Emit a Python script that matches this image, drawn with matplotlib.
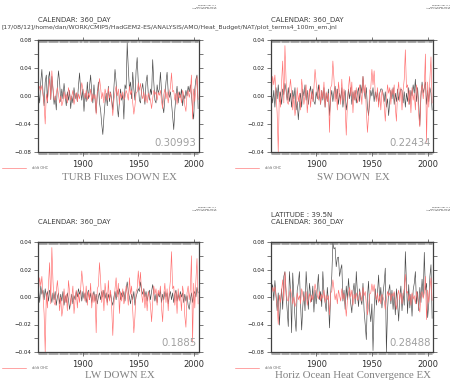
import matplotlib
matplotlib.use('Agg')
import matplotlib.pyplot as plt
import numpy as np

years = np.arange(1860, 2005)

# all series in units of 1e-3, one row per decade
# d/dt OHC, the same red curve on every panel
ohc = [5, 14, 8, 15, 2, -12, -40, 3, -8, 10,
       25, -5, 36, 12, -4, -6, 4, 12, 2, -10,
       0, -14, -8, 6, -4, 2, -10, 12, 4, -6,
       0, 8, -12, -2, 5, -8, 3, -4, 6, 19,
       10, 2, -3, 8, -6, 4, -2, 10, -8, 3,
       -4, 2, -26, 6, 8, 25, 12, -4, 5, -10,
       10, 2, -6, 12, -3, 5, -8, -28, -6, 6,
       14, 0, 10, -12, 4, -3, 6, -5, -2, 8,
       3, -6, 14, 2, 8, -10, -26, -14, 4, 6,
       19, 8, 18, 2, -4, 6, -8, 2, -10, 4,
       0, -6, -18, -4, 8, 2, 6, -6, 5, 1,
       8, -8, -18, 2, 10, -4, 6, -10, 4, 12,
       33, 6, 8, -6, 4, -12, 6, -3, 2, -10,
       8, 2, -14, -22, 3, 8, -2, 6, 30, -33,
       10, -8, 12, 28, -5]

turb = [4, -10, 20, 38, 5, -14, 20, 30, -10, 26,
        35, -5, 28, 10, -12, 0, -20, 15, 36, 20,
        -8, 10, -4, 18, 2, -14, 6, -6, 8, -18,
        0, -10, 12, -4, 4, -8, 14, 33, 8, -6,
        10, -22, 4, -8, 20, -4, 14, 30, 5, -10,
        16, -6, -24, 2, 20, -10, -20, -40, -55, -30,
        -10, 4, -14, 14, -8, 6, -6, -20, 12, 38,
        20, -14, -30, -8, 10, -6, 2, -33, 16, 10,
        76, 40, 10, 20, -4, 34, 10, -6, 36, 55,
        20, -6, -10, 8, 18, 2, -12, 20, 30, 4,
        -6, 10, 2, 52, 20, -6, -10, 16, 4, 10,
        34, 6, -14, -24, -4, 20, 34, 6, -2, 6,
        -10, -30, -48, -20, 0, 14, -10, 6, -2, 10,
        -14, 2, -4, 8, 0, 14, 6, 16, 2, -20,
        -33, 10, 24, 30, -18]

sw = [2, -5, 4, -8, 6, -2, 8, -4, 3, -6,
      5, 1, 9, 4, -3, 6, -4, 2, -8, 4,
      -2, 6, -10, -4, -17, -6, 2, -8, 5, 0,
      8, -3, 4, -6, 2, 7, -2, 5, -4, -6,
      3, -2, 8, 0, -6, 4, -3, 6, -8, 2,
      -4, 5, -14, -2, 4, -4, 3, 7, -2, 5,
      -6, 2, -3, 6, -8, 0, 4, -10, -4, 5,
      -2, 6, -6, 3, -3, 4, -5, 2, 6, -4,
      8, 2, 14, 4, -2, 6, -8, -14, -4, 4,
      0, 6, -4, 3, -2, 4, -6, 2, 5, 5,
      2, -4, 3, -8, -2, -14, -4, 4, -2, 6,
      -6, 2, -4, 5, -3, 2, 5, 4, -5, 3,
      -8, 2, -4, 6, -6, 4, 0, 8, 2, 12,
      -4, 6, -6, -21, 0, 10, 2, 6, 10, -6,
      4, -4, 6, 2, -10]

lw = [6, -4, 8, 2, 5, -2, 6, 0, 4, -3,
      5, 2, -4, 3, -2, 4, -6, 0, 3, -5,
      2, -3, 4, -6, 1, -4, 3, -2, -9, -3,
      2, -5, 1, -2, 4, 0, 6, 2, 5, -3,
      4, -1, 3, -4, 2, 5, -2, 3, -4, 1,
      4, -3, 2, -5, 0, 3, -2, 4, 0, 5,
      -1, 3, -4, 2, -2, 3, -3, -6, 0, 4,
      -2, 5, 2, 6, -2, 3, 0, 4, -3, 5,
      11, 4, 0, -5, 2, -2, 4, -6, 0, 3,
      6, 4, 11, 5, 2, 6, 0, 4, -3, 2,
      5, -2, 4, 9, 3, -3, 2, -4, 3, 0,
      5, -4, 2, -2, 4, 0, 3, -5, 1, 4,
      -2, 3, -4, 2, 5, -3, 2, -2, 4, 0,
      3, -4, 2, -3, 1, -6, -9, -2, 3, -4,
      2, 4, 0, 7, 3]

horiz = [10, 18, -5, 24, 2, -20, 6, -41, -10, 12,
         -18, 30, 37, 5, -20, -43, 37, 10, -52, 35,
         0, -30, -50, 10, 20, 37, -10, -48, -14, 8,
         -20, 37, 10, -18, 20, 4, -7, 16, -22, 10,
         -10, 12, 33, -4, 8, -14, 37, 6, -8, -21,
         14, -6, -45, 4, 30, 78, 70, 72, 44, 57,
         58, 30, 40, 47, -6, 10, -18, 16, -4, 27,
         4, -10, -23, 8, 20, -10, 37, 6, -14, 12,
         -4, -11, 20, -20, -40, -62, 0, 23, -20, -36,
         -10, -78, -20, 12, -12, 6, 32, -6, 14, -16,
         6, 20, 42, -80, -20, 8, 18, -10, 10, -18,
         6, -26, 12, -8, -35, 0, 16, -20, 6, -12,
         66, 20, -24, 18, -16, 4, -28, 10, 20, 37,
         -10, 8, -20, 14, -8, 26, 0, 65, 10, 20,
         -30, -10, 30, 47, -31]

titles = ['TURB Fluxes DOWN EX', 'SW DOWN  EX', 'LW DOWN EX',
          'Horiz Ocean Heat Convergence EX']
corrs = ['0.30993', '0.22434', '0.1885', '0.28488']
ylims = [0.08, 0.04, 0.04, 0.08]
headers = [['CALENDAR: 360_DAY'], ['CALENDAR: 360_DAY'], ['CALENDAR: 360_DAY'],
           ['LATITUDE : 39.5N', 'CALENDAR: 360_DAY']]
jnl = '[17/08/12]/home/dan/WORK/CMIP5/HadGEM2-ES/ANALYSIS/AMO/Heat_Budget/NAT/plot_terms4_100m_em.jnl'
stamp = 'FERRET Ver. 6.1\nNOAA/PMEL TMAP\nAug 17 2012 16:27:02'

W, H = 450, 382
def fx(px):
    return px / W
def fy(py):
    return 1 - py / H

fig = plt.figure(figsize=(4.5, 3.82), dpi=100)
fig.patch.set_facecolor('white')

# pixel boxes: left, right, top, bottom
boxes = [(38, 199, 40, 152), (271, 433, 40, 152),
         (38, 199, 242, 352), (271, 433, 242, 352)]
series = [turb, sw, lw, horiz]
axcol = '#404040'

for i in range(4):
    l, r, t, b = boxes[i]
    ax = fig.add_axes([fx(l), fy(b), fx(r) - fx(l), (b - t) / H])
    ax.plot(years, np.array(series[i]) * 1e-3, color='#484848', lw=0.45)
    red, = ax.plot(years, np.array(ohc) * 1e-3, color='#ff7070', lw=0.45)
    lim = ylims[i]
    ax.set_xlim(1859.5, 2004.8)
    ax.set_ylim(-lim, lim)

    # y ticks every lim/4, labels every lim/2
    yt = np.linspace(-lim, lim, 9)
    ax.set_yticks(yt)
    lab = []
    for k, v in enumerate(yt):
        if k % 2 == 0:
            lab.append(('%.2f' % v).replace('-', '\u2212').replace('\u22120.00', '0.00'))
        else:
            lab.append('')
    ax.set_yticklabels(lab, fontsize=4, color='#202020')
    ax.tick_params(axis='y', which='major', direction='out', length=3, width=0.5,
                   right=True, pad=1.5, colors=axcol, labelcolor='#202020')

    ax.set_xticks([1900, 1950, 2000])
    ax.set_xticklabels(['1900', '1950', '2000'], fontsize=6, color='#303030')
    ax.set_xticks(np.arange(1860, 2005), minor=True)
    ax.tick_params(axis='x', which='major', direction='out', length=3, width=0.5,
                   top=False, pad=2.5, colors=axcol, labelcolor='#303030')
    ax.tick_params(axis='x', which='minor', direction='out', length=1.8, width=0.35,
                   top=False, colors=axcol)
    top = ax.secondary_xaxis('top')
    top.set_xticks([1900, 1950, 2000])
    top.set_xticks(np.arange(1860, 2005), minor=True)
    top.tick_params(which='major', direction='out', length=2.5, width=0.5,
                    labeltop=False, colors=axcol)
    top.tick_params(which='minor', direction='in', length=1.8, width=0.35, colors=axcol)
    top.spines['top'].set_linewidth(0.9)
    top.spines['top'].set_color(axcol)
    for s in ax.spines.values():
        s.set_linewidth(0.9)
        s.set_color(axcol)

    # correlation in the lower right corner
    ax.text(0.985, 0.035, corrs[i], transform=ax.transAxes, ha='right', va='bottom',
            fontsize=7.3, color='#a0a0a0')

    # headers above the panel
    for j, h in enumerate(headers[i]):
        ytop = t - 20 - 7 * (len(headers[i]) - 1 - j)
        fig.text(fx(l), fy(ytop), h, fontsize=5, color='#404040', va='center')
    fig.text(fx(r + 17), fy(t - 35), stamp, fontsize=1.6, color='#303030',
             ha='right', va='top', linespacing=1.1)

    # title below
    cx = (l + r) / 2 + 1
    ty = b + 25 if i < 2 else b + 24
    fig.text(fx(cx), fy(ty), titles[i], fontsize=7.8, family='Liberation Serif',
             color='#808080', ha='center', va='center')

    # little legend at bottom left
    lx = 2 if l < 100 else 235
    ax.legend([red], ['d/dt OHC'], loc='center left', frameon=False, fontsize=2.5,
              bbox_to_anchor=(fx(lx), fy(b + 16)), bbox_transform=fig.transFigure,
              borderpad=0, borderaxespad=0, handlelength=7, handletextpad=1.5,
              labelcolor='#606060')

fig.text(fx(2), fy(27), jnl, fontsize=4.4, color='#404040', va='center')

plt.savefig('out.png', dpi=100, facecolor='white')
